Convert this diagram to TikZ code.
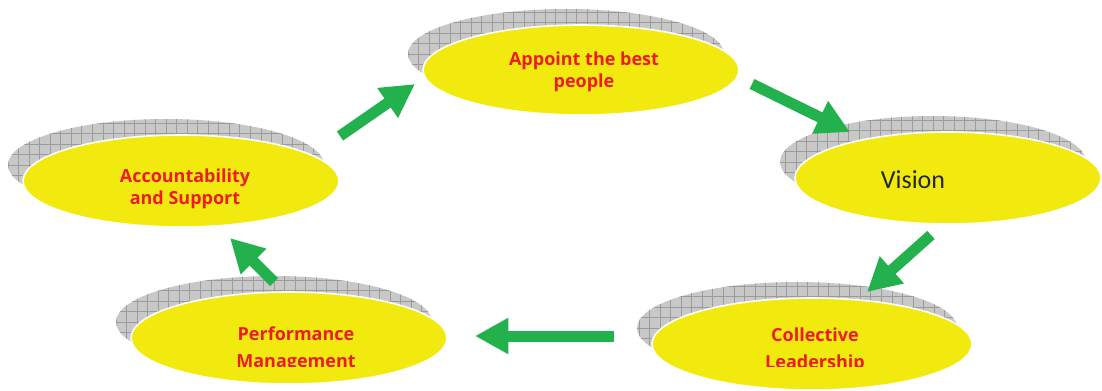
\documentclass[tikz,border=0pt]{standalone}
\usepackage{fontspec}
\usetikzlibrary{shapes.geometric,arrows.meta}
\newfontfamily\redfont{Open Sans}
\newfontfamily\visfont{Carlito}
\definecolor{ellyellow}{RGB}{242,234,14}
\definecolor{labelred}{RGB}{237,28,36}
\definecolor{arrowgreen}{RGB}{34,177,76}
\definecolor{shadowgray}{RGB}{200,200,200}
\definecolor{gridgray}{RGB}{155,155,155}
\tikzset{
  shadowell/.style={ellipse, inner sep=0pt, fill=shadowgray,
    path picture={\draw[gridgray, line width=0.4pt, step=7.9pt]
      (path picture bounding box.south west) grid (path picture bounding box.north east);}},
  yell/.style={ellipse, inner sep=0pt, fill=ellyellow, draw=white, line width=1.2pt},
  lbl/.style={text=labelred, font=\redfont\bfseries\fontsize{13.5}{16.5}\selectfont, align=center, inner sep=0pt},
  greenarrow/.style={draw=arrowgreen, line width=8.25pt, -{Triangle[width=25.5pt,length=25pt]}}
}
\begin{document}
\begin{tikzpicture}[x=0.75pt,y=-0.75pt]
\useasboundingbox (0,0) rectangle (1102,390);
% shadows
\node[shadowell, minimum width=237pt, minimum height=67.5pt] (s1) at (566,54) {};
\node[shadowell, minimum width=237pt, minimum height=69pt] (s2) at (166,165) {};
\node[shadowell, minimum width=229.5pt, minimum height=69pt] (s3) at (933,162) {};
\node[shadowell, minimum width=240pt, minimum height=69pt] (s4) at (797,328) {};
\node[shadowell, minimum width=237pt, minimum height=69pt] (s5) at (274,322) {};
% ellipses
\node[yell, minimum width=237pt, minimum height=67.5pt] (appoint) at (581,70) {};
\node[yell, minimum width=237pt, minimum height=69pt] (account) at (181,181) {};
\node[yell, minimum width=229.5pt, minimum height=69pt] (vision) at (948,178) {};
\node[yell, minimum width=240pt, minimum height=69pt] (collect) at (812,344) {};
\node[yell, minimum width=237pt, minimum height=69pt] (perform) at (289,338) {};
% labels
\node[lbl] (tappoint) at (584,72) {Appoint the best\\people};
\node[lbl] (taccount) at (185,189) {Accountability\\and Support};
\node[font=\visfont\fontsize{19.5}{22}\selectfont, text=black!85, inner sep=0pt] (tvision) at (913,180) {Vision};
\begin{scope}
\clip (0,0) rectangle (1102,366);
\node[lbl, font=\redfont\bfseries\fontsize{13.5}{20.5}\selectfont] (tcollect) at (815,350) {Collective\\Leadership};
\node[lbl, font=\redfont\bfseries\fontsize{13.5}{20.5}\selectfont] (tperform) at (296,349) {Performance\\Management};
\end{scope}
% arrow end points
\coordinate (a1s) at (340,136); \coordinate (a1e) at (415,84);
\coordinate (a2s) at (752,84);  \coordinate (a2e) at (850,132);
\coordinate (a3s) at (931,235); \coordinate (a3e) at (867,292);
\coordinate (a4s) at (614,336); \coordinate (a4e) at (475,336);
\coordinate (a5s) at (274,282); \coordinate (a5e) at (230,238);
\draw[greenarrow] (a1s) -- (a1e);
\draw[greenarrow] (a2s) -- (a2e);
\draw[greenarrow] (a3s) -- (a3e);
\draw[greenarrow] (a4s) -- (a4e);
\draw[greenarrow] (a5s) -- (a5e);
\end{tikzpicture}
\end{document}
